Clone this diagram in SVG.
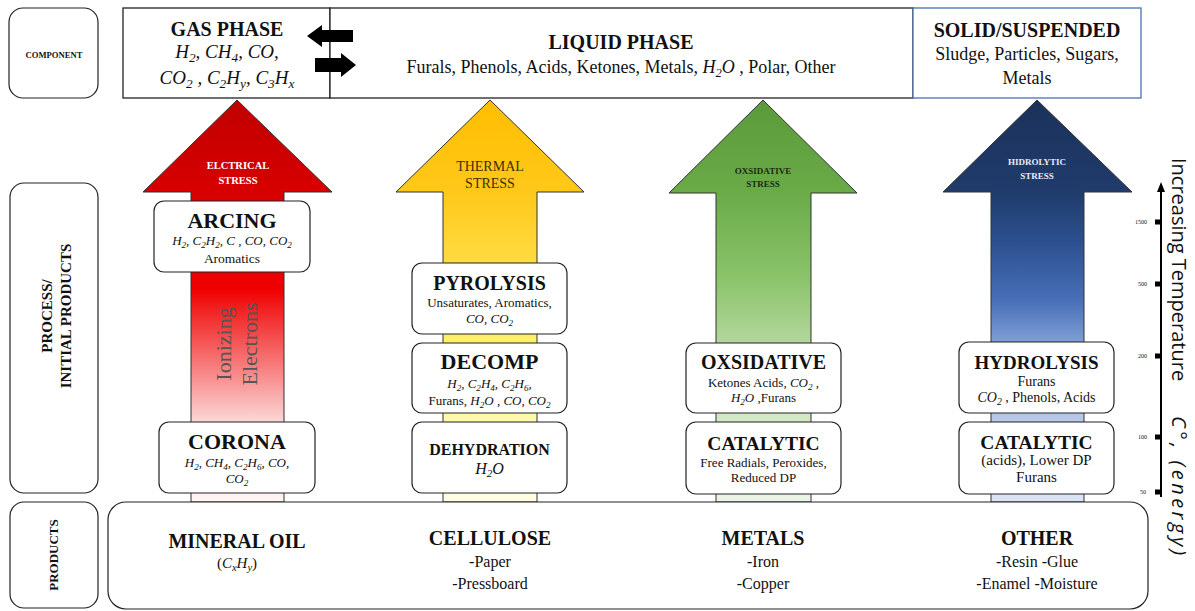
<svg xmlns="http://www.w3.org/2000/svg" width="1195" height="611" viewBox="0 0 1195 611">
<style>
.t{font-family:"Liberation Serif",serif;fill:#111;text-anchor:middle}
.b{font-weight:bold}
.i{font-style:italic}
.s{font-size:70%}
.box{fill:#fff;stroke:#222;stroke-width:1.2}
.arr{stroke:#333;stroke-width:1}
.ax{font-family:"Open Sans",sans-serif;fill:#111}
.tk{font-family:"Liberation Serif",serif;font-size:6px;fill:#111;text-anchor:end}
</style>
<defs>
<linearGradient id="gr" gradientUnits="userSpaceOnUse" x1="0" y1="100" x2="0" y2="502">
<stop offset="0" stop-color="#c00000"/><stop offset="0.23" stop-color="#d80000"/><stop offset="0.47" stop-color="#f00000"/><stop offset="0.8" stop-color="#fcd6d6"/><stop offset="1" stop-color="#fff5f5"/>
</linearGradient>
<linearGradient id="gy" gradientUnits="userSpaceOnUse" x1="0" y1="100" x2="0" y2="502">
<stop offset="0" stop-color="#ffbe00"/><stop offset="0.23" stop-color="#ffc81a"/><stop offset="0.4" stop-color="#ffdb40"/><stop offset="0.6" stop-color="#fff06a"/><stop offset="0.78" stop-color="#fff9a8"/><stop offset="1" stop-color="#fffde6"/>
</linearGradient>
<linearGradient id="gg" gradientUnits="userSpaceOnUse" x1="0" y1="100" x2="0" y2="502">
<stop offset="0" stop-color="#5a9a3a"/><stop offset="0.23" stop-color="#6aab48"/><stop offset="0.45" stop-color="#8cc46c"/><stop offset="0.6" stop-color="#b2d69c"/><stop offset="0.78" stop-color="#d2e8c4"/><stop offset="1" stop-color="#ecf5e6"/>
</linearGradient>
<linearGradient id="gb" gradientUnits="userSpaceOnUse" x1="0" y1="100" x2="0" y2="502">
<stop offset="0" stop-color="#1b315a"/><stop offset="0.23" stop-color="#203c6c"/><stop offset="0.35" stop-color="#2c4f8e"/><stop offset="0.5" stop-color="#4870b8"/><stop offset="0.6" stop-color="#7e9dd6"/><stop offset="0.78" stop-color="#b4c6e8"/><stop offset="1" stop-color="#dce5f5"/>
</linearGradient>
</defs>
<rect width="1195" height="611" fill="#fff"/>

<!-- left category labels -->
<g id="lbl-component"><rect class="box" x="9" y="8" width="89" height="90" rx="14"/><text class="t b" x="54" y="58" font-size="8.6">COMPONENT</text></g>
<g id="lbl-process"><rect class="box" x="10" y="183" width="88" height="310" rx="14"/>
<text class="t b" font-size="15" transform="translate(52,316) rotate(-90)">PROCESS/</text>
<text class="t b" font-size="15" transform="translate(71,316) rotate(-90)">INITIAL PRODUCTS</text></g>
<g id="lbl-products"><rect class="box" x="10" y="502" width="88" height="106" rx="14"/>
<text class="t b" font-size="13" transform="translate(58,555) rotate(-90)">PRODUCTS</text></g>

<!-- top component band -->
<g id="gas-phase">
<rect x="123" y="8" width="207" height="90" fill="#fff" stroke="#222" stroke-width="1.3"/>
<text class="t b" x="227" y="36" font-size="20">GAS PHASE</text>
<text class="t i" x="227" y="58" font-size="19">H<tspan class="s" dy="4">2</tspan><tspan dy="-4">, CH</tspan><tspan class="s" dy="4">4</tspan><tspan dy="-4">, CO,</tspan></text>
<text class="t i" x="227" y="84" font-size="19">CO<tspan class="s" dy="4">2</tspan><tspan dy="-4"> , C</tspan><tspan class="s" dy="4">2</tspan><tspan dy="-4">H</tspan><tspan class="s" dy="4">y</tspan><tspan dy="-4">, C</tspan><tspan class="s" dy="4">3</tspan><tspan dy="-4">H</tspan><tspan class="s" dy="4">x</tspan></text>
</g>
<g id="liquid-phase">
<rect x="330" y="8" width="583" height="90" fill="#fff" stroke="#222" stroke-width="1.3"/>
<text class="t b" x="621" y="49" font-size="20">LIQUID PHASE</text>
<text class="t" x="621" y="73" font-size="18">Furals, Phenols, Acids, Ketones, Metals, <tspan class="i">H</tspan><tspan class="i s" dy="4">2</tspan><tspan class="i" dy="-4">O</tspan> , Polar, Other</text>
</g>
<g id="solid-phase">
<rect x="913" y="8" width="228" height="90" fill="#fff" stroke="#4a6fb5" stroke-width="1.3"/>
<text class="t b" x="1027" y="37" font-size="20">SOLID/SUSPENDED</text>
<text class="t" x="1027" y="60" font-size="18">Sludge, Particles, Sugars,</text>
<text class="t" x="1027" y="84" font-size="18">Metals</text>
</g>

<!-- stress arrows -->
<g id="arrow-electrical"><polygon class="arr" fill="url(#gr)" points="237,100 332,192 284,192 284,502 191,502 191,192 143,192"/>
<text class="t b" x="238" y="169" font-size="10.5" style="fill:#fff">ELCTRICAL</text>
<text class="t b" x="238" y="184" font-size="10.5" style="fill:#fff">STRESS</text>
<text class="t" font-size="22" style="fill:#555" transform="translate(231,344) rotate(-90)">Ionizing</text>
<text class="t" font-size="22" style="fill:#555" transform="translate(257,344) rotate(-90)">Electrons</text></g>
<g id="arrow-thermal"><polygon class="arr" fill="url(#gy)" points="490,100 584,192 537,192 537,502 443,502 443,192 396,192"/>
<text class="t" x="490" y="171" font-size="14" style="fill:#3a3000">THERMAL</text>
<text class="t" x="490" y="188" font-size="14" style="fill:#3a3000">STRESS</text></g>
<g id="arrow-oxidative"><polygon class="arr" fill="url(#gg)" points="763,100 857,193 811,193 811,502 716,502 716,193 669,193"/>
<text class="t b" x="763" y="174" font-size="9" style="fill:#1a2a10">OXSIDATIVE</text>
<text class="t b" x="763" y="187" font-size="9" style="fill:#1a2a10">STRESS</text></g>
<g id="arrow-hydrolytic"><polygon class="arr" fill="url(#gb)" points="1037,100 1132,192 1084,192 1084,502 991,502 991,192 943,192"/>
<text class="t b" x="1037" y="165" font-size="9" style="fill:#e6ecf7">HIDROLYTIC</text>
<text class="t b" x="1037" y="179" font-size="9" style="fill:#e6ecf7">STRESS</text></g>

<!-- connectors: gas/liquid exchange arrows -->
<g id="connectors" fill="#000">
<polygon points="307,36 322,25 322,30 353,30 353,42 322,42 322,47"/>
<polygon points="356,65 341,53 341,58 315,58 315,72 341,72 341,77"/>
</g>

<!-- electrical column -->
<g id="arcing"><rect class="box" x="154" y="201" width="156" height="71" rx="10"/>
<text class="t b" x="232" y="228" font-size="22">ARCING</text>
<text class="t i" x="232" y="245" font-size="13">H<tspan class="s" dy="3">2</tspan><tspan dy="-3">, C</tspan><tspan class="s" dy="3">2</tspan><tspan dy="-3">H</tspan><tspan class="s" dy="3">2</tspan><tspan dy="-3">, C , CO, CO</tspan><tspan class="s" dy="3">2</tspan></text>
<text class="t" x="232" y="263" font-size="13.5">Aromatics</text></g>
<g id="corona"><rect class="box" x="159" y="422" width="156" height="71" rx="10"/>
<text class="t b" x="237" y="449" font-size="22">CORONA</text>
<text class="t i" x="237" y="467" font-size="13">H<tspan class="s" dy="3">2</tspan><tspan dy="-3">, CH</tspan><tspan class="s" dy="3">4</tspan><tspan dy="-3">, C</tspan><tspan class="s" dy="3">2</tspan><tspan dy="-3">H</tspan><tspan class="s" dy="3">6</tspan><tspan dy="-3">, CO,</tspan></text>
<text class="t i" x="237" y="483" font-size="13">CO<tspan class="s" dy="3">2</tspan></text></g>

<!-- thermal column -->
<g id="pyrolysis"><rect class="box" x="412" y="263" width="155" height="71" rx="10"/>
<text class="t b" x="489.5" y="290" font-size="20">PYROLYSIS</text>
<text class="t" x="489.5" y="307" font-size="13">Unsaturates, Aromatics,</text>
<text class="t i" x="489.5" y="323" font-size="13">CO, CO<tspan class="s" dy="3">2</tspan></text></g>
<g id="decomp"><rect class="box" x="412" y="343" width="155" height="70" rx="10"/>
<text class="t b" x="489.5" y="369" font-size="22">DECOMP</text>
<text class="t i" x="489.5" y="388" font-size="13">H<tspan class="s" dy="3">2</tspan><tspan dy="-3">, C</tspan><tspan class="s" dy="3">2</tspan><tspan dy="-3">H</tspan><tspan class="s" dy="3">4</tspan><tspan dy="-3">, C</tspan><tspan class="s" dy="3">2</tspan><tspan dy="-3">H</tspan><tspan class="s" dy="3">6</tspan><tspan dy="-3">,</tspan></text>
<text class="t" x="489.5" y="405" font-size="13">Furans, <tspan class="i">H</tspan><tspan class="i s" dy="3">2</tspan><tspan class="i" dy="-3">O , CO, CO</tspan><tspan class="i s" dy="3">2</tspan></text></g>
<g id="dehydration"><rect class="box" x="412" y="422" width="155" height="71" rx="10"/>
<text class="t b" x="489.5" y="455" font-size="16">DEHYDRATION</text>
<text class="t i" x="489.5" y="474" font-size="16">H<tspan class="s" dy="3">2</tspan><tspan dy="-3">O</tspan></text></g>

<!-- oxidative column -->
<g id="oxsidative"><rect class="box" x="686" y="343" width="155" height="70" rx="10"/>
<text class="t b" x="763.5" y="369" font-size="20">OXSIDATIVE</text>
<text class="t" x="763.5" y="387" font-size="13">Ketones Acids, <tspan class="i">CO</tspan><tspan class="i s" dy="3">2</tspan><tspan dy="-3"> ,</tspan></text>
<text class="t" x="763.5" y="402" font-size="13"><tspan class="i">H</tspan><tspan class="i s" dy="3">2</tspan><tspan class="i" dy="-3">O</tspan> ,Furans</text></g>
<g id="catalytic-ox"><rect class="box" x="686" y="422" width="155" height="72" rx="10"/>
<text class="t b" x="763.5" y="450" font-size="19.5">CATALYTIC</text>
<text class="t" x="763.5" y="467" font-size="13">Free Radials, Peroxides,</text>
<text class="t" x="763.5" y="482" font-size="13">Reduced DP</text></g>

<!-- hydrolytic column -->
<g id="hydrolysis"><rect class="box" x="959" y="342" width="155" height="71" rx="10"/>
<text class="t b" x="1036.5" y="369" font-size="19">HYDROLYSIS</text>
<text class="t" x="1036.5" y="386" font-size="14">Furans</text>
<text class="t" x="1036.5" y="402" font-size="14"><tspan class="i">CO</tspan><tspan class="i s" dy="3">2</tspan><tspan dy="-3"> , Phenols, Acids</tspan></text></g>
<g id="catalytic-hy"><rect class="box" x="959" y="422" width="155" height="72" rx="10"/>
<text class="t b" x="1036.5" y="449" font-size="19.5">CATALYTIC</text>
<text class="t" x="1036.5" y="465" font-size="15">(acids), Lower DP</text>
<text class="t" x="1036.5" y="482" font-size="15">Furans</text></g>

<!-- products -->
<g id="products"><rect class="box" x="108" y="502" width="1040" height="107" rx="18"/>
<text class="t b" x="237" y="548" font-size="20">MINERAL OIL</text>
<text class="t" x="237" y="568" font-size="15">(<tspan class="i">C</tspan><tspan class="i s" dy="3">x</tspan><tspan class="i" dy="-3">H</tspan><tspan class="i s" dy="3">y</tspan><tspan dy="-3">)</tspan></text>
<text class="t b" x="490" y="545" font-size="20">CELLULOSE</text>
<text class="t" x="490" y="567" font-size="16">-Paper</text>
<text class="t" x="490" y="589" font-size="16">-Pressboard</text>
<text class="t b" x="763" y="545" font-size="20">METALS</text>
<text class="t" x="763" y="567" font-size="16">-Iron</text>
<text class="t" x="763" y="589" font-size="16">-Copper</text>
<text class="t b" x="1037" y="545" font-size="20">OTHER</text>
<text class="t" x="1037" y="567" font-size="16">-Resin -Glue</text>
<text class="t" x="1037" y="589" font-size="16">-Enamel -Moisture</text></g>

<!-- temperature axis -->
<g id="temp-axis">
<line x1="1161" y1="497" x2="1161" y2="190" stroke="#000" stroke-width="2"/>
<polygon points="1161,182 1157,192 1165,192" fill="#000"/>
<rect x="1155" y="219.5" width="6" height="5"/><rect x="1155" y="281.5" width="6" height="5"/><rect x="1155" y="353.5" width="6" height="5"/><rect x="1155" y="434.5" width="6" height="5"/><rect x="1155" y="489.5" width="6" height="5"/>
<text class="tk" x="1147" y="224">1500</text><text class="tk" x="1147" y="286">500</text><text class="tk" x="1147" y="358">200</text><text class="tk" x="1147" y="439">100</text><text class="tk" x="1146" y="494">50</text>
<text class="ax" font-size="20" transform="translate(1172,158) rotate(90)">Increasing Temperature <tspan font-style="italic" x="258" letter-spacing="3.5">C°, (energy)</tspan></text>
</g>
</svg>
